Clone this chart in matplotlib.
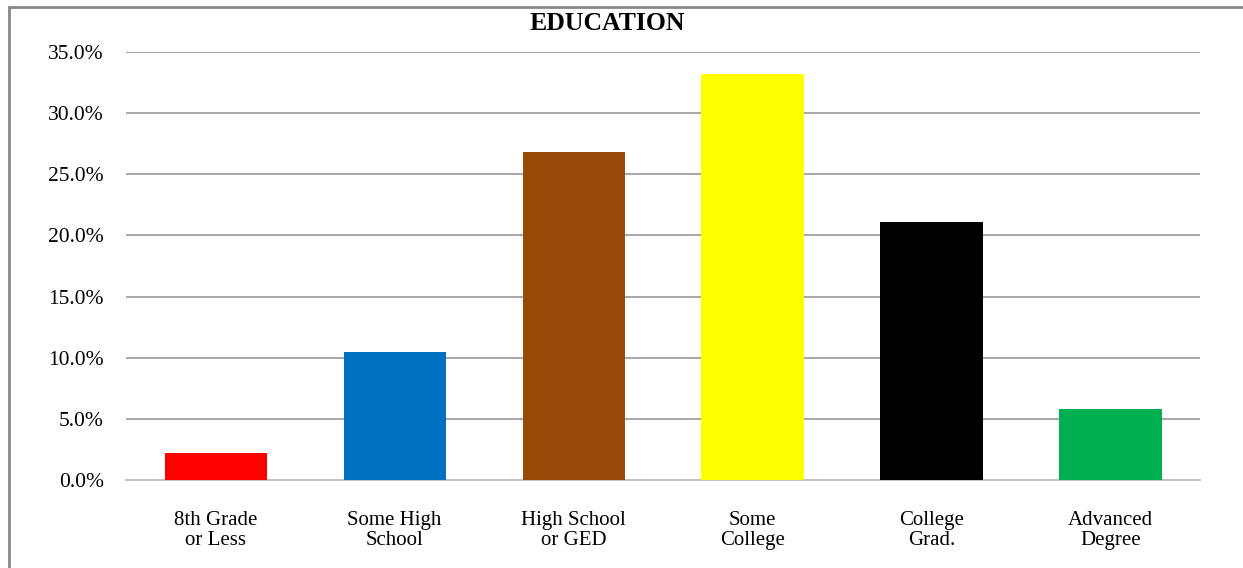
import matplotlib
matplotlib.use("Agg")
from matplotlib import pyplot as plt
from matplotlib.patches import Rectangle
from matplotlib.ticker import FuncFormatter

categories = ["8th Grade\nor Less", "Some High\nSchool", "High School\nor GED",
              "Some\nCollege", "College\nGrad.", "Advanced\nDegree"]
shares = [2.2, 10.5, 26.8, 33.2, 21.1, 5.8]
bar_colors = ["#FF0000", "#0070C0", "#984807", "#FFFF00", "#000000", "#00B050"]
y_ticks = [0, 5, 10, 15, 20, 25, 30, 35]


def main():
    plt.rcParams["font.family"] = ["Liberation Serif", "DejaVu Serif"]

    fig = plt.figure(figsize=(12.43, 5.68), dpi=100)
    ax = fig.add_axes([0.1014, 0.1549, 0.8640, 0.7536])

    positions = list(range(len(categories)))
    ax.bar(positions, shares, width=0.57, color=bar_colors, zorder=3)

    ax.set_xlim(-0.5, len(categories) - 0.5)
    ax.set_ylim(0, 35)
    ax.set_yticks(y_ticks)
    ax.yaxis.set_major_formatter(FuncFormatter(lambda v, _: f"{v:.1f}%"))
    ax.grid(axis="y", color="#8f8f8f", linewidth=1.1, zorder=0)

    ax.set_xticks(positions)
    ax.set_xticklabels(categories, fontsize=15, linespacing=1.1)
    ax.tick_params(axis="x", length=0, pad=22)
    ax.tick_params(axis="y", length=0, pad=16, labelsize=15.5)

    for side in ("top", "right", "left"):
        ax.spines[side].set_visible(False)
    ax.spines["bottom"].set_color("#c0c0c0")
    ax.spines["bottom"].set_linewidth(1.5)

    fig.text(607 / 1243, 1 - 23 / 568, "EDUCATION", ha="center", va="center",
             fontsize=18.5, fontweight="bold")

    # frame around the chart (only top and left edges fall inside the image)
    fig.patches.append(Rectangle((9 / 1243, -0.1), 1.2, (568 - 7.5) / 568 + 0.1,
                                 transform=fig.transFigure, fill=False,
                                 edgecolor="#888888", linewidth=2))

    fig.savefig("out.png", dpi=100)


if __name__ == "__main__":
    main()
